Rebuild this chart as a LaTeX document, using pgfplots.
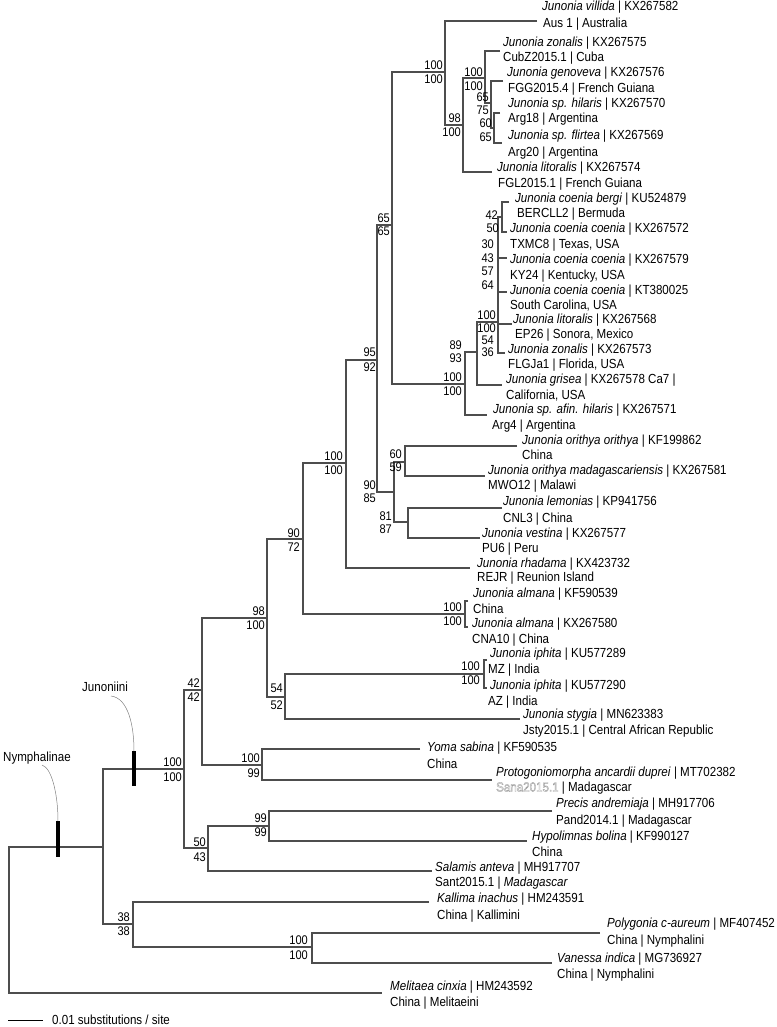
\documentclass[border=0pt]{standalone}
\usepackage{pgfplots}
\pgfplotsset{compat=1.18}
\usepackage{fontspec}
\setmainfont{Liberation Sans}[FakeStretch=0.88]
\definecolor{treec}{HTML}{4D4D4D}
\pgfplotsset{tree/.style={draw=treec, solid, line width=1.6bp, mark=none}}
\newcommand{\tl}[3]{\node[anchor=base west,inner sep=0pt] at (axis cs:#1,#2+4.5) {#3};}
\newcommand{\bs}[3]{\node[anchor=base east,inner sep=0pt,font=\fontsize{12.6}{14}\selectfont] at (axis cs:#1,#2+4.3) {#3};}
\begin{document}
\begin{tikzpicture}[font=\fontsize{13.2}{15}\selectfont]
\begin{axis}[
  width=777bp, height=1027bp, scale only axis,
  xmin=0, xmax=777, ymin=0, ymax=1027, y dir=reverse,
  hide axis, clip=false,
]
\coordinate (BL) at (axis cs:0,1027);
\coordinate (TR) at (axis cs:777,0);
% ---------- tree branches ----------
\addplot[tree] coordinates {(103,847) (9,847) (9,993) (382,993)};
\addplot[tree] coordinates {(184,769) (103,769) (103,924) (133,924)};
\addplot[tree] coordinates {(202,690) (184,690) (184,848) (208,848)};
\addplot[tree] coordinates {(267,618) (202,618) (202,765) (262,765)};
\addplot[tree] coordinates {(303,539) (267,539) (267,697) (285,697)};
\addplot[tree] coordinates {(346,463) (303,463) (303,614) (465,614)};
\addplot[tree] coordinates {(468,601) (465,601) (465,627) (468,627)};
\addplot[tree] coordinates {(484,674) (285,674) (285,719) (520,719)};
\addplot[tree] coordinates {(487,660) (484,660) (484,688) (487,688)};
\addplot[tree] coordinates {(377,360) (346,360) (346,568) (470,568)};
\addplot[tree] coordinates {(392,225) (377,225) (377,492) (394,492)};
\addplot[tree] coordinates {(405,462) (394,462) (394,522) (408,522)};
\addplot[tree] coordinates {(517,446) (405,446) (405,476) (485,476)};
\addplot[tree] coordinates {(502,508) (408,508) (408,538) (480,538)};
\addplot[tree] coordinates {(445,72) (392,72) (392,384) (465,384)};
\addplot[tree] coordinates {(537,21) (445,21) (445,125) (463,125)};
\addplot[tree] coordinates {(485,78) (463,78) (463,172) (492,172)};
\addplot[tree] coordinates {(500,51) (485,51) (485,103) (491,103)};
\addplot[tree] coordinates {(503,81) (491,81) (491,128) (494,128)};
\addplot[tree] coordinates {(500,113) (494,113) (494,143) (502,143)};
\addplot[tree] coordinates {(477,352) (465,352) (465,415) (487,415)};
\addplot[tree] coordinates {(498,322) (477,322) (477,385) (502,385)};
% coenia polytomy
\addplot[tree] coordinates {(509,202) (502,202) (502,232) (507,232)};
\addplot[tree] coordinates {(502,217) (498,217) (498,353) (505,353)};
\addplot[tree] coordinates {(498,258) (507,258)};
\addplot[tree] coordinates {(498,292) (507,292)};
\addplot[tree] coordinates {(498,324) (512,324)};
% lower part
\addplot[tree] coordinates {(269,826) (208,826) (208,871) (432,871)};
\addplot[tree] coordinates {(552,811) (269,811) (269,841) (527,841)};
\addplot[tree] coordinates {(420,749) (262,749) (262,780) (492,780)};
\addplot[tree] coordinates {(429,902) (133,902) (133,947) (312,947)};
\addplot[tree] coordinates {(600,933) (312,933) (312,963) (552,963)};
% clade bars
\addplot[draw=black, line width=4.5bp, mark=none] coordinates {(58,821) (58,857)};
\addplot[draw=black, line width=4.5bp, mark=none] coordinates {(134,751) (134,786)};
% scale bar
\addplot[draw=black, line width=1bp, mark=none] coordinates {(8,1020) (43,1020)};
% clade label connectors
\draw[gray, line width=0.5pt] (axis cs:111,696) .. controls (axis cs:128,698) and (axis cs:134,725) .. (axis cs:134,751);
\draw[gray, line width=0.5pt] (axis cs:42,765) .. controls (axis cs:52,768) and (axis cs:58,795) .. (axis cs:58,821);
\tl{82}{687}{Junoniini}
\tl{3}{757}{Nymphalinae}
\tl{52}{1020}{0.01 substitutions / site}
% ---------- support values ----------
\bs{443}{65}{100}\bs{443}{79}{100}
\bs{461}{118}{98}\bs{461}{132}{100}
\bs{483}{72}{100}\bs{483}{86}{100}
\bs{489}{97}{65}\bs{489}{110}{75}
\bs{492}{123}{60}\bs{492}{137}{65}
\bs{390}{218}{65}\bs{390}{231}{65}
\bs{498}{215}{42}\bs{499}{228}{50}
\bs{494}{244}{30}\bs{494}{258}{43}
\bs{494}{271}{57}\bs{494}{285}{64}
\bs{496}{315}{100}\bs{496}{328}{100}
\bs{494}{340}{54}\bs{494}{352}{36}
\bs{462}{345}{89}\bs{462}{358}{93}
\bs{462}{377}{100}\bs{462}{391}{100}
\bs{376}{352}{95}\bs{376}{367}{92}
\bs{343}{456}{100}\bs{343}{470}{100}
\bs{376}{485}{90}\bs{376}{498}{85}
\bs{402}{454}{60}\bs{402}{467}{59}
\bs{392}{516}{81}\bs{392}{529}{87}
\bs{300}{533}{90}\bs{300}{547}{72}
\bs{265}{611}{98}\bs{265}{625}{100}
\bs{200}{683}{42}\bs{200}{697}{42}
\bs{462}{607}{100}\bs{462}{621}{100}
\bs{480}{666}{100}\bs{480}{680}{100}
\bs{283}{688}{54}\bs{283}{705}{52}
\bs{260}{758}{100}\bs{260}{773}{99}
\bs{182}{762}{100}\bs{182}{777}{100}
\bs{206}{842}{50}\bs{206}{857}{43}
\bs{267}{818}{99}\bs{267}{832}{99}
\bs{130}{917}{38}\bs{130}{931}{38}
\bs{308}{940}{100}\bs{308}{955}{100}
% ---------- tip labels ----------
\tl{542}{6}{\textit{Junonia villida} | KX267582}
\tl{543}{23}{Aus 1 | Australia}
\tl{503}{42}{\textit{Junonia zonalis} | KX267575}
\tl{503}{57}{CubZ2015.1 | Cuba}
\tl{507}{72}{\textit{Junonia genoveva} | KX267576}
\tl{508}{88}{FGG2015.4 | French Guiana}
\tl{508}{103}{\textit{Junonia sp. hilaris} | KX267570}
\tl{508}{118}{Arg18 | Argentina}
\tl{508}{135}{\textit{Junonia sp. flirtea} | KX267569}
\tl{508}{152}{Arg20 | Argentina}
\tl{497}{167}{\textit{Junonia litoralis} | KX267574}
\tl{498}{183}{FGL2015.1 | French Guiana}
\tl{515}{198}{\textit{Junonia coenia bergi} | KU524879}
\tl{517}{213}{BERCLL2 | Bermuda}
\tl{510}{228}{\textit{Junonia coenia coenia} | KX267572}
\tl{510}{244}{TXMC8 | Texas, USA}
\tl{510}{259}{\textit{Junonia coenia coenia} | KX267579}
\tl{510}{275}{KY24 | Kentucky, USA}
\tl{510}{290}{\textit{Junonia coenia coenia} | KT380025}
\tl{510}{305}{South Carolina, USA}
\tl{513}{319}{\textit{Junonia litoralis} | KX267568}
\tl{515}{334}{EP26 | Sonora, Mexico}
\tl{508}{349}{\textit{Junonia zonalis} | KX267573}
\tl{508}{364}{FLGJa1 | Florida, USA}
\tl{506}{379}{\textit{Junonia grisea} | KX267578 Ca7 |}
\tl{506}{395}{California, USA}
\tl{493}{409}{\textit{Junonia sp. afin. hilaris} | KX267571}
\tl{492}{425}{Arg4 | Argentina}
\tl{522}{440}{\textit{Junonia orithya orithya} | KF199862}
\tl{522}{455}{China}
\tl{488}{470}{\textit{Junonia orithya madagascariensis} | KX267581}
\tl{488}{485}{MWO12 | Malawi}
\tl{503}{501}{\textit{Junonia lemonias} | KP941756}
\tl{503}{518}{CNL3 | China}
\tl{482}{533}{\textit{Junonia vestina} | KX267577}
\tl{482}{548}{PU6 | Peru}
\tl{477}{563}{\textit{Junonia rhadama} | KX423732}
\tl{477}{577}{REJR | Reunion Island}
\tl{473}{593}{\textit{Junonia almana} | KF590539}
\tl{473}{609}{China}
\tl{472}{623}{\textit{Junonia almana} | KX267580}
\tl{472}{639}{CNA10 | China}
\tl{490}{653}{\textit{Junonia iphita} | KU577289}
\tl{488}{669}{MZ | India}
\tl{490}{685}{\textit{Junonia iphita} | KU577290}
\tl{488}{701}{AZ | India}
\tl{523}{714}{\textit{Junonia stygia} | MN623383}
\tl{523}{730}{Jsty2015.1 | Central African Republic}
\tl{427}{747}{\textit{Yoma sabina} | KF590535}
\tl{427}{764}{China}
\tl{496}{772}{\textit{Protogoniomorpha ancardii duprei} | MT702382}
\tl{496}{787}{\textcolor{gray!75}{\special{pdf:literal direct 1 Tr}Sana2015.1\special{pdf:literal direct 0 Tr}} | Madagascar}
\tl{556}{803}{\textit{Precis andremiaja} | MH917706}
\tl{556}{820}{Pand2014.1 | Madagascar}
\tl{532}{836}{\textit{Hypolimnas bolina} | KF990127}
\tl{532}{852}{China}
\tl{435}{867}{\textit{Salamis anteva} | MH917707}
\tl{435}{882}{Sant2015.1 | \textit{Madagascar}}
\tl{437}{898}{\textit{Kallima inachus} | HM243591}
\tl{437}{915}{China | Kallimini}
\tl{607}{923}{\textit{Polygonia c-aureum} | MF407452}
\tl{607}{940}{China | Nymphalini}
\tl{557}{958}{\textit{Vanessa indica} | MG736927}
\tl{557}{974}{China | Nymphalini}
\tl{390}{986}{\textit{Melitaea cinxia} | HM243592}
\tl{390}{1002}{China | Melitaeini}
\end{axis}
\pgfresetboundingbox
\path (BL) rectangle (TR);
\end{tikzpicture}
\end{document}
